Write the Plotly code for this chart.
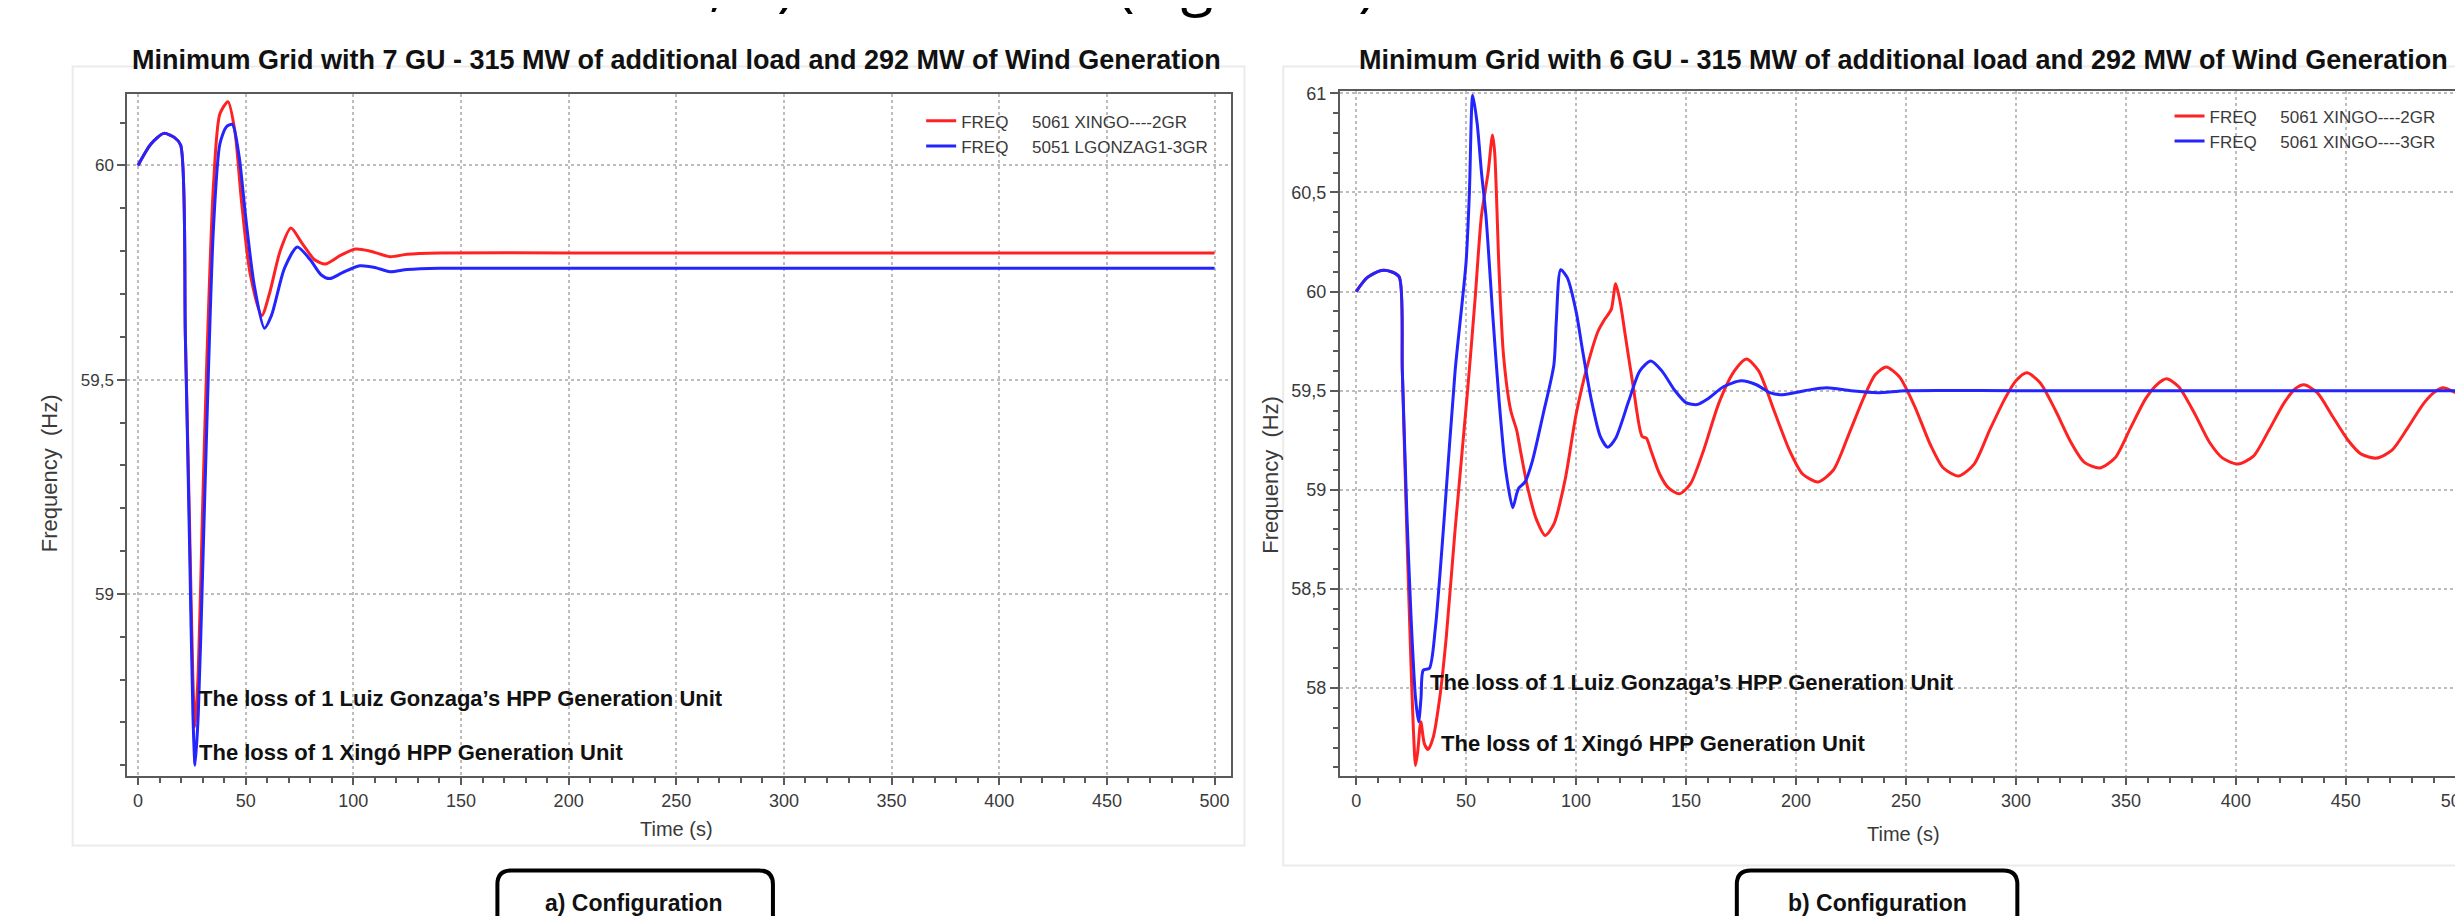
import plotly.graph_objects as go

W, H = 2463, 916

# ---------------- data ----------------
# a) Minimum Grid with 7 GU
A_RED_T = [0, 6, 12, 17, 19.8, 22, 24, 25.5, 26.5, 28, 30, 32, 35, 38, 41.8, 45, 48, 52, 57.5, 61, 66, 71, 76, 82, 87, 94, 101, 108, 117, 125, 140, 200, 300, 400, 500]
A_RED_F = [60.0, 60.05, 60.075, 60.065, 60.048, 59.6, 59.15, 58.8, 58.69, 58.82, 59.2, 59.55, 59.95, 60.12, 60.149, 60.08, 59.92, 59.75, 59.65, 59.70, 59.8, 59.854, 59.82, 59.78, 59.77, 59.79, 59.805, 59.8, 59.787, 59.793, 59.796, 59.796, 59.796, 59.796, 59.796]
A_BLUE_T = [0, 6, 12, 17, 19.8, 22, 24, 25.5, 26.5, 28, 30, 32, 35, 38, 41, 43.8, 47, 50, 54, 58.7, 62, 68, 74, 80, 85, 89, 95, 103, 110, 117, 125, 140, 200, 300, 400, 500]
A_BLUE_F = [60.0, 60.05, 60.075, 60.065, 60.048, 59.6, 59.1, 58.72, 58.60, 58.72, 59.05, 59.4, 59.85, 60.05, 60.09, 60.096, 60.02, 59.88, 59.72, 59.62, 59.65, 59.76, 59.81, 59.78, 59.745, 59.736, 59.75, 59.766, 59.762, 59.752, 59.757, 59.76, 59.76, 59.76, 59.76, 59.76]

# b) Minimum Grid with 6 GU
B_RED_T = [0, 5, 11.4, 16, 19.6, 21, 23, 25, 26, 27, 28, 29.4, 31, 32.7, 35, 38, 41, 45, 50.6, 54, 57, 60, 62, 63, 65, 67, 70.3, 73, 75, 78, 82, 86, 90, 95, 100, 105, 110, 113, 116, 118, 120, 122.5, 126, 130, 132, 134, 138, 142, 147, 152, 158, 165, 172, 177.5, 183, 190, 197, 203, 210, 217, 224, 231, 236, 241, 247, 254, 261, 267, 274, 281, 288, 295, 300, 305, 311, 318, 325, 331, 338, 345, 352, 359, 364, 368.5, 374, 381, 388, 394, 401, 408, 415, 422, 427, 431, 437, 444, 451, 457, 464, 471, 478, 485, 490, 494, 500]
B_RED_F = [60.0, 60.07, 60.106, 60.1, 60.073, 59.6, 58.8, 58.1, 57.8, 57.61, 57.68, 57.83, 57.72, 57.69, 57.75, 57.95, 58.26, 58.8, 59.49, 59.95, 60.385, 60.6, 60.79, 60.7, 60.1, 59.68, 59.40, 59.30, 59.18, 59.01, 58.85, 58.77, 58.83, 59.05, 59.38, 59.62, 59.80, 59.86, 59.91, 60.04, 59.95, 59.77, 59.52, 59.27, 59.26, 59.2, 59.08, 59.01, 58.98, 59.03, 59.2, 59.44, 59.6, 59.66, 59.6, 59.4, 59.2, 59.08, 59.04, 59.1, 59.28, 59.47, 59.58, 59.62, 59.57, 59.42, 59.23, 59.11, 59.07, 59.13, 59.3, 59.46, 59.55, 59.59, 59.54, 59.4, 59.24, 59.14, 59.11, 59.16, 59.31, 59.46, 59.53, 59.56, 59.52, 59.39, 59.24, 59.16, 59.13, 59.17, 59.3, 59.44, 59.51, 59.53, 59.49, 59.37, 59.25, 59.18, 59.16, 59.2, 59.31, 59.43, 59.49, 59.515, 59.49]
B_BLUE_T = [0, 5, 11.4, 16, 19.6, 21, 23, 25, 27, 28.4, 29.5, 30.5, 33.3, 36, 40, 45, 50, 51.5, 53, 55, 57, 59, 62, 65, 68, 71.2, 73, 74, 76.8, 80, 85, 89.9, 91, 93, 96, 100, 103, 107, 111, 114.4, 118, 124, 129, 134, 139, 145, 150, 155, 160, 167, 175, 182, 188, 194, 204, 214, 225, 237, 250, 300, 400, 500]
B_BLUE_F = [60.0, 60.07, 60.106, 60.1, 60.073, 59.6, 58.9, 58.35, 57.95, 57.83, 57.95, 58.09, 58.10, 58.3, 58.85, 59.6, 60.15, 60.5, 60.99, 60.85, 60.6, 60.385, 59.9, 59.45, 59.1, 58.91, 58.98, 59.01, 59.04, 59.14, 59.38, 59.63, 59.85, 60.11, 60.07, 59.9, 59.70, 59.45, 59.27, 59.215, 59.26, 59.45, 59.6, 59.65, 59.6, 59.5, 59.44, 59.43, 59.46, 59.52, 59.55, 59.53, 59.49, 59.48, 59.50, 59.515, 59.50, 59.49, 59.50, 59.50, 59.50, 59.50]

X_TICKS = [0, 50, 100, 150, 200, 250, 300, 350, 400, 450, 500]

TITLE_A = "Minimum Grid with 7 GU - 315 MW of additional load and 292 MW of Wind Generation"
TITLE_B = "Minimum Grid with 6 GU - 315 MW of additional load and 292 MW of Wind Generation"
SP = "\u00a0" * 5
NAMES_A = ["FREQ" + SP + "5061 XINGO----2GR", "FREQ" + SP + "5051 LGONZAG1-3GR"]
NAMES_B = ["FREQ" + SP + "5061 XINGO----2GR", "FREQ" + SP + "5061 XINGO----3GR"]
EVT_LG = "The loss of 1 Luiz Gonzaga\u2019s HPP Generation Unit"
EVT_XG = "The loss of 1 Xing\u00f3 HPP Generation Unit"
CAPTION = "Scenario 1, b) Scenario 2 (Figure 9)"

# ---------------- styling ----------------
FONT = "Liberation Sans, Arial, sans-serif"
RED = "#ff2222"
BLUE = "#2424ff"
AXC = "#5a5a5a"
TXT = "#3a3a3a"


def px(x):
    return x / W


def py(y):
    return 1 - y / H


fig = go.Figure()

line_common = dict(width=3, shape="spline", smoothing=0.7)
fig.add_trace(go.Scatter(x=A_RED_T, y=A_RED_F, mode="lines", name=NAMES_A[0],
                         line=dict(color=RED, **line_common), xaxis="x", yaxis="y", legend="legend"))
fig.add_trace(go.Scatter(x=A_BLUE_T, y=A_BLUE_F, mode="lines", name=NAMES_A[1],
                         line=dict(color=BLUE, **line_common), xaxis="x", yaxis="y", legend="legend"))
fig.add_trace(go.Scatter(x=B_RED_T, y=B_RED_F, mode="lines", name=NAMES_B[0],
                         line=dict(color=RED, **line_common), xaxis="x2", yaxis="y2", legend="legend2"))
fig.add_trace(go.Scatter(x=B_BLUE_T, y=B_BLUE_F, mode="lines", name=NAMES_B[1],
                         line=dict(color=BLUE, **line_common), xaxis="x2", yaxis="y2", legend="legend2"))

tickfont = dict(family=FONT, size=18, color=TXT)


def xaxis(domain, rng, anchor):
    return dict(domain=domain, range=rng, anchor=anchor, tickmode="array", tickvals=X_TICKS,
                ticks="outside", ticklen=7, tickwidth=1.5, tickcolor=AXC,
                minor=dict(dtick=10, tick0=0, ticks="outside", ticklen=5, tickcolor=AXC, showgrid=False),
                showline=True, linecolor=AXC, linewidth=2, mirror=True,
                showgrid=True, gridcolor="#bdbdbd", griddash="dot", gridwidth=1.5,
                zeroline=False, tickfont=tickfont, ticklabeloverflow="allow")


def yaxis(domain, rng, anchor, mirror, size):
    return dict(domain=domain, range=rng, anchor=anchor, dtick=0.5, tick0=58,
                ticks="outside", ticklen=8, tickwidth=1.5, tickcolor=AXC,
                minor=dict(dtick=0.1, tick0=58, ticks="outside", ticklen=5, tickcolor=AXC, showgrid=False),
                showline=True, linecolor=AXC, linewidth=2, mirror=mirror,
                showgrid=True, gridcolor="#bdbdbd", griddash="dot", gridwidth=1.5,
                zeroline=False, tickfont=dict(family=FONT, size=size, color=TXT))


annotations = []
# subplot titles
for cx, t in [(672, TITLE_A), (1906, TITLE_B)]:
    annotations.append(dict(x=px(cx), y=py(45), xref="paper", yref="paper", text="<b>" + t + "</b>",
                            showarrow=False, xanchor="center", yanchor="middle",
                            font=dict(family=FONT, size=27, color="#111111")))
# axis titles
for cx, cy in [(672, 820), (1906, 825)]:
    annotations.append(dict(x=px(cx), y=py(cy), xref="paper", yref="paper", text="Time (s)",
                            showarrow=False, xanchor="center", yanchor="middle",
                            font=dict(family=FONT, size=20, color=TXT)))
for cx, cy in [(42, 462), (1269, 463)]:
    annotations.append(dict(x=px(cx), y=py(cy), xref="paper", yref="paper", text="Frequency  (Hz)",
                            showarrow=False, xanchor="center", yanchor="middle", textangle=-90,
                            font=dict(family=FONT, size=22, color=TXT)))
# event labels
evts = [(190, 689, EVT_LG), (190, 743, EVT_XG), (1428, 673, EVT_LG), (1439, 734, EVT_XG)]
for ex, ey, t in evts:
    annotations.append(dict(x=px(ex), y=py(ey), xref="paper", yref="paper", text="<b>" + t + "</b>",
                            showarrow=False, xanchor="left", yanchor="middle",
                            font=dict(family=FONT, size=22, color="#111111")))
# configuration labels
for cx, t in [(629, "a) Configuration"), (1879, "b) Configuration")]:
    annotations.append(dict(x=px(cx), y=py(895), xref="paper", yref="paper", text="<b>" + t + "</b>",
                            showarrow=False, xanchor="center", yanchor="middle",
                            font=dict(family=FONT, size=23, color="#111111")))
# cut-off caption text at the very top (only descenders are visible)
annotations.append(dict(x=px(410), y=py(-34), xref="paper", yref="paper",
                        text=CAPTION,
                        showarrow=False, xanchor="left", yanchor="middle",
                        font=dict(family="Open Sans", size=60, color="#000000")))

shapes = []
# faint panels behind each chart
shapes.append(dict(type="rect", xref="paper", yref="paper", x0=px(65), x1=px(1243), y0=py(837), y1=py(52),
                   line=dict(color="#ebebeb", width=2), fillcolor="rgba(0,0,0,0)", layer="below"))
shapes.append(dict(type="rect", xref="paper", yref="paper", x0=px(1282), x1=px(2475), y0=py(857), y1=py(52),
                   line=dict(color="#ebebeb", width=2), fillcolor="rgba(0,0,0,0)", layer="below"))


def rounded_box(x0, x1, y0, y1, r):
    X = px
    Y = py
    return (f"M {X(x0 + r)},{Y(y0)} L {X(x1 - r)},{Y(y0)} Q {X(x1)},{Y(y0)} {X(x1)},{Y(y0 + r)} "
            f"L {X(x1)},{Y(y1)} L {X(x0)},{Y(y1)} L {X(x0)},{Y(y0 + r)} Q {X(x0)},{Y(y0)} {X(x0 + r)},{Y(y0)} Z")


for bx0, bx1 in [(492, 769), (1738, 2020)]:
    shapes.append(dict(type="path", xref="paper", yref="paper", path=rounded_box(bx0, bx1, 862, 960, 14),
                       line=dict(color="#000000", width=4), fillcolor="rgba(0,0,0,0)"))

legfont = dict(family=FONT, size=17, color=TXT)
fig.update_layout(
    width=W, height=H, autosize=False,
    margin=dict(l=0, r=0, t=0, b=0),
    paper_bgcolor="white", plot_bgcolor="white",
    separators=",.",
    xaxis=xaxis([px(120), px(1229)], [-4.94, 507.4], "y"),
    yaxis=yaxis([py(767), py(80)], [58.5746, 60.166], "x", True, 17),
    xaxis2=xaxis([px(1339), 1.0], [-7.37, 501.0], "y2"),
    yaxis2=yaxis([py(767), py(76.5)], [57.556, 61.012], "x2", False, 18),
    legend=dict(x=px(918), y=py(89), xanchor="left", yanchor="top", bgcolor="rgba(0,0,0,0)",
                font=legfont, itemwidth=30, tracegroupgap=0),
    legend2=dict(x=px(2173), y=py(84), xanchor="left", yanchor="top", bgcolor="rgba(0,0,0,0)",
                 font=legfont, itemwidth=30, tracegroupgap=0),
    annotations=annotations,
    shapes=shapes,
    showlegend=True,
)

fig.write_html("out.html")
